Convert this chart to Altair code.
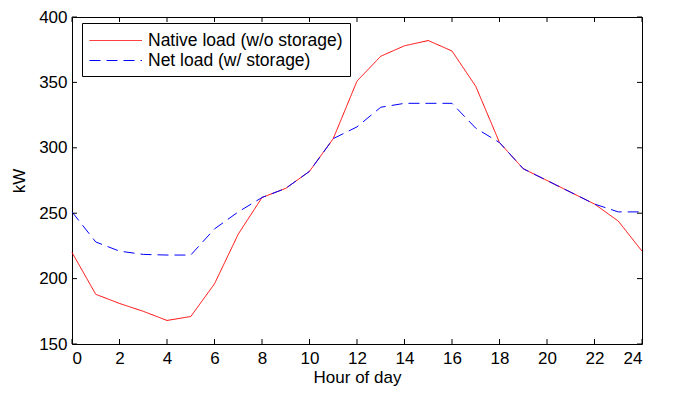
import altair as alt
import pandas as pd

hours = list(range(25))
native = [220, 188, 181, 175, 168, 171, 196, 234, 262, 269, 282, 307, 351, 370, 378,
          382, 374, 347, 304, 284, 275, 266, 257, 244, 221]
net = [251, 228, 221, 218.5, 218, 218, 238, 251, 262, 269, 282, 307, 316, 331, 334,
       334, 334, 315, 304, 284, 275, 266, 257, 251, 251]
series = ["Native load (w/o storage)", "Net load (w/ storage)"]
x_ticks = list(range(0, 25, 2))
y_ticks = [150, 200, 250, 300, 350, 400]

df = pd.DataFrame({
    "hour": hours * 2,
    "kw": native + net,
    "series": [series[0]] * len(hours) + [series[1]] * len(hours),
})
xt = pd.DataFrame({"hour": x_ticks})
yt = pd.DataFrame({"kw": y_ticks})

FONT = "Liberation Sans"
H = 327
W = 570
xscale = alt.Scale(domain=[0, 24], nice=False, zero=False)
yscale = alt.Scale(domain=[150, 400], nice=False, zero=False)

lines = alt.Chart(df).mark_line(strokeWidth=1).encode(
    x=alt.X("hour:Q", scale=xscale, title="Hour of day",
            axis=alt.Axis(values=x_ticks, tickSize=0, labelPadding=6, domain=False,
                          grid=False, titlePadding=3)),
    y=alt.Y("kw:Q", scale=yscale, title="kW",
            axis=alt.Axis(values=y_ticks, tickSize=0, labelPadding=5, domain=False,
                          grid=False, titlePadding=10)),
    color=alt.Color("series:N", title=None,
                    scale=alt.Scale(domain=series, range=["#ff0000", "#0000ff"])),
    strokeDash=alt.StrokeDash("series:N", title=None,
                              scale=alt.Scale(domain=series, range=[[1, 0], [11, 6]])),
)

tick_b = alt.Chart(xt).mark_rule(color="black", strokeWidth=1).encode(
    x=alt.X("hour:Q", scale=xscale), y=alt.value(H), y2=alt.value(H - 5))
tick_t = alt.Chart(xt).mark_rule(color="black", strokeWidth=1).encode(
    x=alt.X("hour:Q", scale=xscale), y=alt.value(0), y2=alt.value(5))
tick_l = alt.Chart(yt).mark_rule(color="black", strokeWidth=1).encode(
    y=alt.Y("kw:Q", scale=yscale), x=alt.value(0), x2=alt.value(5))
tick_r = alt.Chart(yt).mark_rule(color="black", strokeWidth=1).encode(
    y=alt.Y("kw:Q", scale=yscale), x=alt.value(W), x2=alt.value(W - 5))

chart = alt.layer(lines, tick_b, tick_t, tick_l, tick_r).properties(
    width=W, height=H,
    autosize=alt.AutoSizeParams(type="none"),
    padding={"left": 64, "top": 9, "right": 25, "bottom": 45},
).configure_view(
    stroke="black", strokeWidth=1
).configure_axis(
    labelFont=FONT, labelFontSize=17, labelColor="black",
    titleFont=FONT, titleFontSize=17, titleFontWeight="normal", titleColor="black",
).configure_legend(
    orient="none", legendX=10, legendY=6,
    strokeColor="black", fillColor="white", padding=7,
    symbolType="M-1,0H4.25", symbolSize=400, symbolStrokeWidth=1,
    labelFont=FONT, labelFontSize=17.5, labelColor="black", labelOffset=38,
    labelLimit=400, rowPadding=1,
)

chart.save("out.html", embed_options={"renderer": "svg", "actions": False})
